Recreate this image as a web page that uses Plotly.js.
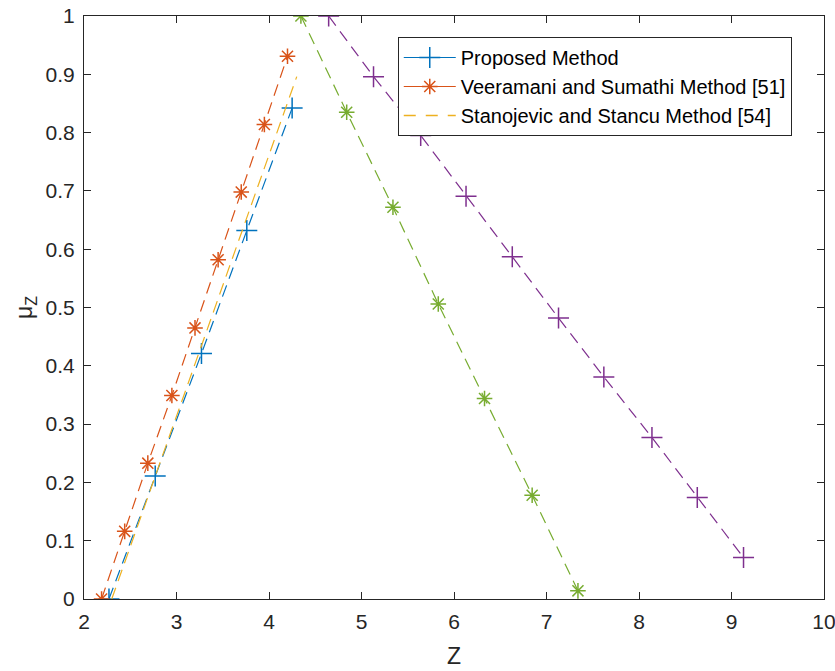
<!DOCTYPE html>
<html>
<head>
<meta charset="utf-8">
<script src="https://cdn.plot.ly/plotly-3.0.1.min.js"></script>
<style>html,body{margin:0;padding:0;background:#fff;}#chart{width:835px;height:671px;}</style>
</head>
<body>
<div id="chart"></div>
<script>
// Proposed Method (left side)
const proposedX = [2.27, 2.77, 3.27, 3.76, 4.25];
const proposedY = [0, 0.211, 0.421, 0.632, 0.842];
// Veeramani and Sumathi Method [51] (left side)
const veeramaniX = [2.19, 2.44, 2.69, 2.95, 3.20, 3.45, 3.70, 3.95, 4.20];
const veeramaniY = [0, 0.116, 0.233, 0.349, 0.465, 0.582, 0.698, 0.814, 0.931];
// Stanojevic and Stancu Method [54] (left side)
const stanojevicX = [2.30, 2.80, 3.30, 3.80, 4.30];
const stanojevicY = [0, 0.224, 0.448, 0.672, 0.896];
// Right side curves
const rightPurpleX = [4.645, 5.13, 5.64, 6.13, 6.63, 7.13, 7.62, 8.14, 8.63, 9.13];
const rightPurpleY = [1.0, 0.896, 0.795, 0.691, 0.587, 0.482, 0.381, 0.277, 0.174, 0.071];
const rightGreenX = [4.345, 4.84, 5.34, 5.83, 6.33, 6.845, 7.34];
const rightGreenY = [1.0, 0.835, 0.672, 0.506, 0.344, 0.178, 0.014];

const legendNames = ['Proposed Method', 'Veeramani and Sumathi Method [51]', 'Stanojevic and Stancu Method [54]'];
const xTicks = [2,3,4,5,6,7,8,9,10];
const yTicks = [0,0.1,0.2,0.3,0.4,0.5,0.6,0.7,0.8,0.9,1];
const yTickText = ['0','0.1','0.2','0.3','0.4','0.5','0.6','0.7','0.8','0.9','1'];

const C = {blue:'#0072BD', orange:'#D95319', yellow:'#EDB120', purple:'#7E2F8E', green:'#77AC30'};
const dash = '12px,7px';

const plusMarker = c => ({symbol:'cross-thin-open', size:15, color:c, line:{color:c, width:1.5}});
const starMarker = c => ({symbol:'asterisk-open', size:13, color:c, line:{color:c, width:1.5}});

const traces = [
  {x: proposedX, y: proposedY, mode:'lines+markers', showlegend:false,
   line:{color:C.blue, width:1.2, dash:dash}, marker: plusMarker(C.blue)},
  {x: veeramaniX, y: veeramaniY, mode:'lines+markers', showlegend:false,
   line:{color:C.orange, width:1.2, dash:dash}, marker: starMarker(C.orange)},
  {x: stanojevicX, y: stanojevicY, mode:'lines', showlegend:false,
   line:{color:C.yellow, width:1.2, dash:dash}},
  {x: rightPurpleX, y: rightPurpleY, mode:'lines+markers', showlegend:false,
   line:{color:C.purple, width:1.2, dash:dash}, marker: plusMarker(C.purple)},
  {x: rightGreenX, y: rightGreenY, mode:'lines+markers', showlegend:false,
   line:{color:C.green, width:1.2, dash:dash}, marker: starMarker(C.green)},
  // legend entries
  {x:[null], y:[null], name: legendNames[0], mode:'lines+markers',
   line:{color:C.blue, width:1.2}, marker: plusMarker(C.blue)},
  {x:[null], y:[null], name: legendNames[1], mode:'lines+markers',
   line:{color:C.orange, width:1.2}, marker: starMarker(C.orange)},
  {x:[null], y:[null], name: legendNames[2], mode:'lines',
   line:{color:C.yellow, width:1.4, dash:'12px,10px'}}
];

const axisCommon = {
  showgrid:false, zeroline:false, showline:true, mirror:'ticks',
  linecolor:'#262626', linewidth:1, ticks:'inside', ticklen:7, tickwidth:1, tickcolor:'#262626',
  tickfont:{family:'Liberation Sans, Arial, sans-serif', size:21, color:'#262626'},
  ticklabelstandoff:4, ticklabeloverflow:'allow'
};

const layout = {
  width:835, height:671,
  margin:{l:84, r:11, t:16, b:72},
  paper_bgcolor:'#fff', plot_bgcolor:'#fff',
  font:{family:'Liberation Sans, Arial, sans-serif', color:'#262626'},
  xaxis: Object.assign({}, axisCommon, {
    range:[2,10], tickvals:xTicks,
    title:{text:'Z', font:{size:23, color:'#262626'}, standoff:15}
  }),
  yaxis: Object.assign({}, axisCommon, {
    range:[0,1], tickvals:yTicks, ticktext:yTickText,
    title:{text:'μ<sub>Z</sub>', font:{size:23, color:'#262626'}, standoff:6}
  }),
  legend:{x:0.424, y:0.964, xanchor:'left', yanchor:'top',
    bgcolor:'#fff', bordercolor:'#262626', borderwidth:1,
    font:{family:'Liberation Sans, Arial, sans-serif', size:20, color:'#000'},
    tracegroupgap:0, itemwidth:52},
  showlegend:true
};

Plotly.newPlot('chart', traces, layout, {displayModeBar:false, staticPlot:true});
</script>
</body>
</html>
